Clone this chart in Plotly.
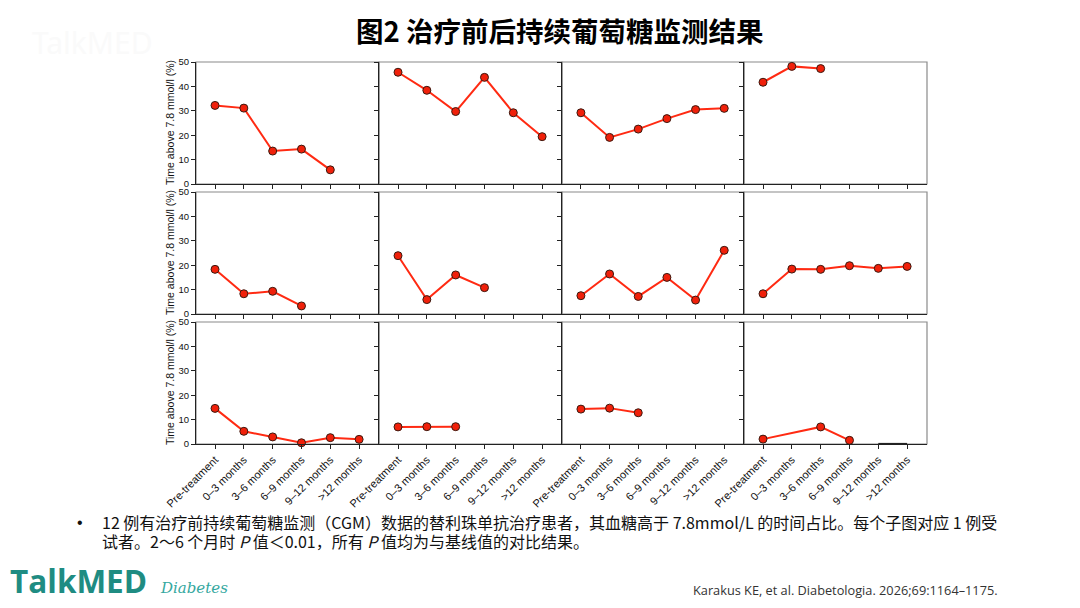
import plotly.graph_objects as go

W, H = 1080, 608
OFF = 8  # page body margin: figure is drawn 8px right/down in the browser

categories = ["Pre-treatment", "0\u20133 months", "3\u20136 months", "6\u20139 months", "9\u201312 months", ">12 months"]
y_ticks = [0, 10, 20, 30, 40, 50]

# Time above 7.8 mmol/l (%) for each participant (None = no data)
p1 = [32.2, 31.1, 13.5, 14.3, 5.8, None]
p2 = [45.8, 38.4, 29.7, 43.7, 29.2, 19.4]
p3 = [29.2, 19.1, 22.5, 26.8, 30.5, 31.0]
p4 = [41.7, 48.2, 47.3, None, None, None]
p5 = [18.3, 8.3, 9.3, 3.3, None, None]
p6 = [23.9, 5.9, 16.0, 10.8, None, None]
p7 = [7.5, 16.4, 7.2, 15.0, 5.7, 26.1]
p8 = [8.3, 18.4, 18.3, 19.8, 18.7, 19.5]
p9 = [14.6, 5.2, 2.9, 0.5, 2.6, 1.9]
p10 = [7.0, 7.1, 7.1, None, None, None]
p11 = [14.3, 14.7, 12.8, None, None, None]
p12 = [2.0, None, 7.0, 1.5, None, None]
p12_zero = [None, None, None, None, 0, 0]

panels = [p1, p2, p3, p4, p5, p6, p7, p8, p9, p10, p11, p12]

title_text = "图2 治疗前后持续葡萄糖监测结果"
y_title = "Time above 7.8 mmol/l (%)"
note_line1 = "12 例有治疗前持续葡萄糖监测（CGM）数据的替利珠单抗治疗患者，其血糖高于 7.8mmol/L 的时间占比。每个子图对应 1 例受"
note_line2 = "试者。2～6 个月时 <i>P</i> 值＜0.01，所有 <i>P</i> 值均为与基线值的对比结果。"
citation = "Karakus KE, et al. Diabetologia. 2026;69:1164–1175."

# layout geometry (screen pixels)
col_edges = [196, 379, 562, 744, 927]
row_edges = [(62, 184), (192, 314), (322, 444)]


def fx(px):
    return (px - OFF) / W


def fy(py):
    return 1 - (py - OFF) / H


LINE_RED = "#ff2a12"
MARK_RED = "#f0200a"
DARK = "#222222"
FONT = "Liberation Sans, Arial, sans-serif"

fig = go.Figure()
layout = {}
shapes = []
annotations = []

for i, vals in enumerate(panels):
    r, c = divmod(i, 4)
    n = i + 1
    xa = "xaxis" if n == 1 else f"xaxis{n}"
    ya = "yaxis" if n == 1 else f"yaxis{n}"
    xr = "x" if n == 1 else f"x{n}"
    yr = "y" if n == 1 else f"y{n}"
    top, bot = row_edges[r]

    fig.add_trace(go.Scatter(
        x=categories, y=vals, xaxis=xr, yaxis=yr, mode="lines+markers",
        connectgaps=True, cliponaxis=False,
        line=dict(color=LINE_RED, width=2),
        marker=dict(size=8, color=MARK_RED, line=dict(color="#3a1a10", width=1)),
        showlegend=False, hoverinfo="x+y"))
    if n == 12:
        fig.add_trace(go.Scatter(
            x=categories, y=p12_zero, xaxis=xr, yaxis=yr, mode="lines",
            cliponaxis=False, line=dict(color=DARK, width=2.2),
            showlegend=False, hoverinfo="skip"))

    layout[xa] = dict(
        domain=[fx(col_edges[c]), fx(col_edges[c + 1])], anchor=yr, type="category",
        automargin=False, categoryorder="array", categoryarray=categories,
        range=[-0.66, 5.69], showgrid=False, zeroline=False,
        showline=True, linecolor=DARK, linewidth=1.2,
        ticks="outside", ticklen=4, tickcolor=DARK, tickwidth=1,
        showticklabels=(r == 2), tickangle=-45,
        tickfont=dict(family=FONT, size=11, color="#111"),
        fixedrange=True)
    layout[ya] = dict(
        domain=[fy(bot), fy(top)], anchor=xr, range=[0, 50], automargin=False,
        tickvals=y_ticks, showgrid=False, zeroline=False,
        showline=True, linecolor=DARK, linewidth=1.2,
        ticks="outside", ticklen=4, tickcolor=DARK, tickwidth=1,
        showticklabels=(c == 0),
        tickfont=dict(family=FONT, size=9.5, color="#111"),
        fixedrange=True)
    if c == 0:
        annotations.append(dict(
            text=y_title, x=fx(170), y=fy((top + bot) / 2), xref="paper", yref="paper",
            xanchor="center", yanchor="middle", textangle=-90, showarrow=False,
            font=dict(family=FONT, size=10.5, color="#111")))
    shapes.append(dict(type="rect", xref=f"{xr} domain", yref=f"{yr} domain",
                       x0=0, x1=1, y0=0, y1=1, layer="below",
                       line=dict(color="#8a8a8a", width=1.2)))

annotations += [
    dict(text="<b>" + title_text + "</b>", x=fx(559), y=fy(30), xref="paper", yref="paper",
         xanchor="center", yanchor="middle", showarrow=False,
         font=dict(family="Noto Sans CJK SC", size=27.5, color="#000")),
    dict(text="TalkMED", x=fx(30), y=fy(42), xref="paper", yref="paper",
         xanchor="left", yanchor="middle", showarrow=False,
         font=dict(family="Noto Sans", size=30, color="#fafafa")),
    dict(text="•", x=fx(75), y=fy(522), xref="paper", yref="paper",
         xanchor="left", yanchor="middle", showarrow=False,
         font=dict(family="Liberation Sans", size=16, color="#111")),
    dict(text=note_line1, x=fx(100), y=fy(522), xref="paper", yref="paper",
         xanchor="left", yanchor="middle", showarrow=False,
         font=dict(family="Noto Sans CJK SC", size=16, color="#111")),
    dict(text=note_line2, x=fx(100), y=fy(541), xref="paper", yref="paper",
         xanchor="left", yanchor="middle", showarrow=False,
         font=dict(family="Noto Sans CJK SC", size=16, color="#111")),
    dict(text=citation, x=fx(1000), y=fy(590), xref="paper", yref="paper",
         xanchor="right", yanchor="middle", showarrow=False,
         font=dict(family="Open Sans", size=12.75, color="#333")),
    dict(text="<b>TalkMED</b>", x=fx(8), y=fy(580), xref="paper", yref="paper",
         xanchor="left", yanchor="middle", showarrow=False,
         font=dict(family="Open Sans", size=31.5, color="#1f8c82")),
    dict(text="<i>Diabetes</i>", x=fx(158), y=fy(588), xref="paper", yref="paper",
         xanchor="left", yanchor="middle", showarrow=False,
         font=dict(family="DejaVu Serif", size=15, color="#35a8a0")),
]

fig.update_layout(
    width=W, height=H, margin=dict(l=0, r=0, t=0, b=0, autoexpand=False),
    paper_bgcolor="white", plot_bgcolor="white",
    shapes=shapes, annotations=annotations, showlegend=False,
    **layout)

fig.write_html("out.html", config={"displayModeBar": False})
